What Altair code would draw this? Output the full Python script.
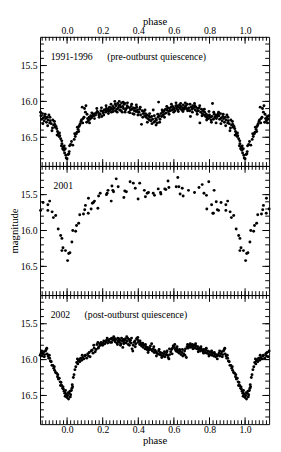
import altair as alt
import pandas as pd

# ---------------- data (phase in [0,1), magnitude) ----------------
top_pts = [
(0.000,16.80),(0.006,16.74),(0.010,16.73),(0.014,16.62),(0.020,16.60),(0.032,16.61),(0.040,16.53),
(0.046,16.49),(0.052,16.45),(0.056,16.43),(0.062,16.39),(0.067,16.35),(0.071,16.33),(0.074,16.31),
(0.078,16.28),(0.081,16.26),(0.085,16.08),(0.090,16.24),(0.095,16.22),(0.103,16.15),(0.106,16.06),
(0.110,16.29),(0.115,16.24),(0.120,16.27),(0.124,16.22),(0.128,16.25),(0.133,16.20),(0.137,16.23),
(0.142,16.21),(0.147,16.18),(0.151,16.20),(0.156,16.17),(0.160,16.19),(0.165,16.16),(0.169,16.14),
(0.173,16.15),(0.178,16.19),(0.182,16.17),(0.186,16.18),(0.190,16.13),(0.195,16.21),(0.199,16.14),
(0.203,16.16),(0.208,16.12),(0.213,16.12),(0.217,16.15),(0.221,16.10),(0.226,16.13),(0.230,16.11),
(0.234,16.14),(0.238,16.08),(0.242,16.12),(0.245,16.09),(0.249,16.15),(0.253,16.11),(0.257,16.07),
(0.261,16.10),(0.266,16.09),(0.270,16.04),(0.272,16.13),(0.275,16.06),(0.279,16.11),(0.284,16.03),
(0.287,16.09),(0.291,16.06),(0.295,16.12),(0.298,16.05),(0.302,16.08),(0.306,16.02),(0.310,16.15),
(0.313,16.07),(0.317,16.10),(0.320,16.04),(0.324,16.03),(0.328,16.12),(0.333,16.10),(0.337,16.06),
(0.342,16.08),(0.347,16.15),(0.351,16.09),(0.356,16.12),(0.360,16.07),(0.365,16.11),(0.369,16.17),
(0.373,16.09),(0.378,16.13),(0.382,16.10),(0.387,16.14),(0.391,16.08),(0.395,16.12),(0.400,16.15),
(0.404,16.15),(0.408,16.11),(0.413,16.19),(0.418,16.32),(0.422,16.13),(0.427,16.17),(0.431,16.14),
(0.436,16.20),(0.440,16.17),(0.444,16.22),(0.449,16.19),(0.453,16.24),(0.458,16.20),(0.462,16.26),
(0.466,16.22),(0.471,16.27),(0.475,16.21),(0.480,16.25),(0.484,16.12),(0.488,16.29),(0.493,16.28),
(0.497,16.24),(0.502,16.26),(0.507,16.30),(0.511,16.22),(0.514,16.01),(0.518,16.20),(0.522,16.25),
(0.527,16.17),(0.531,16.21),(0.536,16.15),(0.540,16.19),(0.545,16.13),(0.549,16.17),(0.553,16.11),
(0.558,16.16),(0.562,16.12),(0.566,16.09),(0.571,16.14),(0.575,16.10),(0.580,16.13),(0.584,16.08),
(0.589,16.12),(0.593,16.07),(0.597,16.11),(0.602,16.09),(0.606,16.13),(0.611,16.06),(0.615,16.10),
(0.617,16.06),(0.622,16.12),(0.626,16.08),(0.631,16.05),(0.635,16.10),(0.640,16.07),(0.644,16.12),
(0.649,16.09),(0.653,16.05),(0.658,16.11),(0.662,16.08),(0.667,16.06),(0.671,16.10),(0.675,16.04),
(0.680,16.12),(0.684,16.09),(0.689,16.13),(0.693,16.21),(0.697,16.08),(0.702,16.11),(0.706,16.06),
(0.711,16.09),(0.716,16.03),(0.720,16.12),(0.724,16.08),(0.729,16.14),(0.733,16.10),(0.738,16.13),
(0.742,16.09),(0.746,16.30),(0.751,16.15),(0.755,16.11),(0.760,16.17),(0.764,16.13),(0.769,16.19),
(0.773,16.15),(0.778,16.21),(0.782,16.18),(0.787,16.23),(0.791,16.20),(0.795,16.24),(0.800,16.19),
(0.804,16.22),(0.809,16.26),(0.813,16.21),(0.817,16.03),(0.822,16.25),(0.826,16.18),(0.830,16.22),
(0.835,16.19),(0.839,16.24),(0.844,16.21),(0.848,16.18),(0.853,16.20),(0.857,16.25),(0.862,16.17),
(0.866,16.23),(0.871,16.27),(0.875,16.21),(0.880,16.24),(0.884,16.29),(0.889,16.22),(0.893,16.26),
(0.898,16.19),(0.902,16.30),(0.906,16.27),(0.911,16.31),(0.915,16.41),(0.920,16.26),(0.924,16.33),
(0.929,16.28),(0.933,16.36),(0.938,16.35),(0.942,16.38),(0.946,16.42),(0.951,16.45),(0.955,16.49),
(0.959,16.48),(0.964,16.52),(0.968,16.62),(0.971,16.59),(0.975,16.66),(0.979,16.64),(0.982,16.68),
(0.986,16.72),(0.990,16.66),(0.995,16.79),
# additional scattered measurements
(0.012,16.70),(0.025,16.56),(0.043,16.45),(0.058,16.36),(0.065,16.42),(0.088,16.30),(0.098,16.10),
(0.112,16.18),(0.126,16.30),(0.139,16.16),(0.154,16.24),(0.167,16.10),(0.180,16.22),(0.193,16.09),
(0.206,16.19),(0.219,16.06),(0.232,16.17),(0.247,16.04),(0.259,16.14),(0.268,16.00),(0.281,16.15),
(0.293,16.00),(0.304,16.13),(0.315,16.01),(0.326,16.15),(0.339,16.02),(0.353,16.16),(0.363,16.04),
(0.376,16.18),(0.389,16.05),(0.398,16.19),(0.411,16.08),(0.425,16.22),(0.438,16.12),(0.451,16.29),
(0.464,16.17),(0.477,16.31),(0.490,16.20),(0.500,16.33),(0.509,16.18),(0.520,16.29),(0.534,16.12),
(0.547,16.22),(0.560,16.07),(0.573,16.18),(0.586,16.04),(0.599,16.15),(0.612,16.02),(0.625,16.14),
(0.638,16.03),(0.651,16.14),(0.664,16.02),(0.677,16.13),(0.691,16.04),(0.704,16.15),(0.718,16.06),
(0.731,16.18),(0.745,16.06),(0.758,16.20),(0.771,16.11),(0.784,16.26),(0.797,16.14),(0.811,16.29),
(0.824,16.15),(0.837,16.30),(0.851,16.15),(0.864,16.31),(0.877,16.18),(0.891,16.34),(0.904,16.22),
(0.918,16.37),(0.931,16.32),(0.944,16.47),(0.957,16.44),(0.970,16.55),(0.984,16.62),(0.993,16.75),
]

mid_pts = [
(0.003,16.42),(0.009,16.32),(0.016,16.31),(0.027,16.16),(0.032,16.00),(0.048,16.01),(0.053,15.93),
(0.065,15.90),(0.071,15.78),(0.092,15.77),(0.099,15.71),(0.103,15.65),(0.119,15.76),(0.120,15.55),
(0.135,15.70),(0.142,15.62),(0.148,15.61),(0.154,15.59),(0.173,15.69),(0.177,15.52),(0.186,15.48),
(0.221,15.50),(0.225,15.48),(0.230,15.44),(0.248,15.59),(0.252,15.38),(0.257,15.44),(0.261,15.46),
(0.276,15.28),(0.287,15.39),(0.319,15.54),(0.324,15.45),(0.333,15.46),(0.354,15.32),(0.372,15.34),
(0.383,15.41),(0.399,15.56),(0.408,15.34),(0.434,15.44),(0.440,15.53),(0.450,15.48),(0.457,15.47),
(0.484,15.48),(0.491,15.51),(0.512,15.42),(0.525,15.47),(0.527,15.49),(0.549,15.42),(0.555,15.43),
(0.567,15.31),(0.572,15.40),(0.613,15.39),(0.622,15.26),(0.628,15.39),(0.635,15.49),(0.647,15.41),
(0.652,15.52),(0.682,15.44),(0.716,15.47),(0.741,15.40),(0.759,15.36),(0.769,15.48),(0.783,15.51),
(0.796,15.32),(0.785,15.70),(0.812,15.64),(0.819,15.76),(0.822,15.76),(0.826,15.44),(0.838,15.60),
(0.844,15.71),(0.851,15.72),(0.865,15.61),(0.892,15.64),(0.902,15.59),(0.892,15.72),(0.916,15.74),
(0.923,15.82),(0.936,15.79),(0.950,15.98),(0.964,16.07),(0.971,16.11),(0.977,16.24),(0.971,16.28),
(0.991,16.28),
]

bot_pts = [
(0.000,16.53),(0.004,16.50),(0.008,16.55),(0.012,16.47),(0.016,16.44),(0.020,16.49),(0.024,16.43),
(0.027,16.40),(0.031,16.38),(0.035,16.25),(0.039,16.21),(0.044,16.14),(0.049,16.10),(0.054,16.04),
(0.058,15.99),(0.063,16.02),(0.068,16.00),(0.071,16.03),(0.076,15.98),(0.082,16.01),(0.088,15.97),
(0.094,15.99),(0.100,15.95),(0.103,15.94),(0.110,15.98),(0.116,15.92),(0.124,15.90),(0.129,15.96),
(0.135,15.88),(0.140,15.87),(0.146,15.91),(0.152,15.84),(0.158,15.89),(0.163,15.86),(0.168,15.79),
(0.173,15.76),(0.178,15.82),(0.183,15.78),(0.188,15.80),(0.191,15.76),(0.196,15.79),(0.201,15.77),
(0.206,15.74),(0.212,15.78),(0.217,15.75),(0.222,15.73),(0.228,15.77),(0.233,15.74),(0.238,15.72),
(0.243,15.76),(0.247,15.71),(0.252,15.70),(0.257,15.73),(0.262,15.68),(0.266,15.70),(0.270,15.75),
(0.274,15.72),(0.279,15.77),(0.283,15.79),(0.287,15.74),(0.290,15.71),(0.294,15.76),(0.298,15.73),
(0.302,15.78),(0.306,15.70),(0.310,15.74),(0.313,15.83),(0.316,15.72),(0.320,15.76),(0.324,15.73),
(0.328,15.71),(0.332,15.77),(0.336,15.74),(0.340,15.70),(0.344,15.79),(0.348,15.72),(0.352,15.75),
(0.356,15.73),(0.360,15.77),(0.365,15.85),(0.369,15.88),(0.372,15.80),(0.376,15.76),(0.381,15.74),
(0.386,15.78),(0.390,15.71),(0.395,15.72),(0.399,15.76),(0.404,15.74),(0.408,15.79),(0.413,15.77),
(0.418,15.81),(0.423,15.79),(0.428,15.83),(0.433,15.80),(0.438,15.85),(0.443,15.82),(0.448,15.86),
(0.453,15.83),(0.458,15.87),(0.463,15.84),(0.468,15.81),(0.475,15.78),(0.479,15.88),(0.484,15.85),
(0.489,15.90),(0.494,15.87),(0.499,15.89),(0.504,15.91),(0.510,15.92),(0.514,15.88),(0.519,15.93),
(0.524,15.90),(0.529,15.94),(0.534,15.91),(0.539,15.95),(0.544,15.92),(0.549,15.96),(0.554,15.93),
(0.559,15.90),(0.564,15.94),(0.568,15.97),(0.572,15.99),(0.577,15.93),(0.582,15.89),(0.587,15.86),
(0.592,15.84),(0.596,15.81),(0.599,15.81),(0.603,15.83),(0.608,15.86),(0.612,15.88),(0.616,15.85),
(0.620,15.89),(0.625,15.87),(0.630,15.91),(0.635,15.88),(0.640,15.93),(0.645,15.90),(0.650,15.95),
(0.655,15.92),(0.660,15.88),(0.665,15.85),(0.670,15.97),(0.674,15.82),(0.679,15.84),(0.684,15.82),
(0.689,15.80),(0.694,15.83),(0.699,15.81),(0.704,15.79),(0.709,15.82),(0.714,15.80),(0.719,15.84),
(0.724,15.81),(0.729,15.85),(0.734,15.82),(0.739,15.86),(0.744,15.84),(0.749,15.88),(0.754,15.85),
(0.759,15.87),(0.764,15.89),(0.769,15.86),(0.774,15.90),(0.779,15.87),(0.784,15.91),(0.789,15.88),
(0.794,15.92),(0.799,15.89),(0.804,15.93),(0.809,15.90),(0.814,15.94),(0.819,15.91),(0.824,15.95),
(0.829,15.92),(0.834,15.96),(0.839,15.93),(0.844,15.99),(0.849,15.94),(0.854,15.91),(0.859,15.95),
(0.864,15.92),(0.869,15.89),(0.874,15.93),(0.879,15.88),(0.883,15.86),(0.888,15.92),(0.893,15.95),
(0.897,15.98),(0.902,15.98),(0.906,16.02),(0.911,16.03),(0.915,16.08),(0.920,16.08),(0.925,16.12),
(0.930,16.15),(0.935,16.18),(0.941,16.19),(0.946,16.24),(0.951,16.27),(0.956,16.26),(0.961,16.31),
(0.966,16.32),(0.970,16.36),(0.975,16.40),(0.979,16.41),(0.983,16.44),(0.987,16.47),(0.991,16.43),
(0.995,16.48),(0.998,16.52),
# additional scattered measurements
(0.006,16.46),(0.018,16.52),(0.029,16.35),(0.060,16.06),(0.085,15.94),(0.120,15.95),(0.150,15.80),
(0.175,15.84),(0.200,15.80),(0.225,15.70),(0.250,15.76),(0.268,15.72),(0.285,15.70),(0.300,15.80),
(0.318,15.78),(0.335,15.68),(0.350,15.80),(0.362,15.70),(0.383,15.82),(0.397,15.69),(0.410,15.74),
(0.425,15.77),(0.440,15.79),(0.455,15.90),(0.470,15.86),(0.487,15.82),(0.502,15.95),(0.517,15.86),
(0.532,15.97),(0.547,15.89),(0.562,15.88),(0.575,15.85),(0.590,15.92),(0.605,15.79),(0.618,15.82),
(0.632,15.86),(0.648,15.86),(0.662,15.94),(0.677,15.79),(0.692,15.78),(0.707,15.85),(0.722,15.78),
(0.737,15.89),(0.752,15.82),(0.767,15.91),(0.782,15.84),(0.797,15.95),(0.812,15.88),(0.827,15.90),
(0.842,15.95),(0.857,15.88),(0.872,15.96),(0.886,15.84),(0.900,15.94),(0.928,16.10),(0.948,16.21),
(0.963,16.36),(0.977,16.38),(0.989,16.51),
]

panel_labels = [
    "1991-1996\u00a0\u00a0\u00a0\u00a0\u00a0\u00a0(pre-outburst quiescence)",
    "2001",
    "2002\u00a0\u00a0\u00a0\u00a0\u00a0\u00a0(post-outburst quiescence)",
]

x_major = [0.0, 0.2, 0.4, 0.6, 0.8, 1.0]
x_minor = [round(-0.14 + 0.02 * i, 2) for i in range(64)]
y_major = [15.5, 16.0, 16.5]
y_minor = [round(15.2 + 0.1 * i, 1) for i in range(17)]

PH_MIN, PH_MAX = -0.152, 1.135
MAG_MIN, MAG_MAX = 15.1, 16.9
W, H = 236, 133
FONT = "Liberation Serif"
MINOR_LEN, MAJOR_LEN = 4, 7


def wrap(pts):
    rows = []
    for p, m in pts:
        for s in (-1, 0, 1):
            q = p + s
            if PH_MIN <= q <= PH_MAX:
                rows.append({"x": q, "y": m, "kind": "pt"})
    return rows


def tick_rows():
    rows = []
    for t in x_minor:
        rows.append({"x": t, "y": MAG_MIN, "kind": "xminor"})
    for t in x_major:
        rows.append({"x": t, "y": MAG_MIN, "kind": "xmajor"})
    for v in y_minor:
        rows.append({"x": 0.5, "y": v, "kind": "yminor"})
    for v in y_major:
        rows.append({"x": 0.5, "y": v, "kind": "ymajor"})
    return rows


xs = alt.Scale(domain=[PH_MIN, PH_MAX], nice=False, zero=False)
ys = alt.Scale(domain=[MAG_MIN, MAG_MAX], reverse=True, nice=False, zero=False)


def panel(pts, label, label_x, x_orient, ytitle):
    df = pd.DataFrame(wrap(pts) + tick_rows())
    if x_orient:
        xaxis = alt.Axis(orient=x_orient, values=x_major, format=".1f", ticks=False, tickSize=0,
                         domain=False, grid=False, title="phase", labelPadding=1, titlePadding=0)
    else:
        xaxis = None
    if ytitle:
        yaxis = alt.Axis(values=y_major, format=".1f", ticks=False, tickSize=0, domain=False,
                         grid=False, title=ytitle, labelPadding=3, titlePadding=1)
    else:
        yaxis = alt.Axis(values=y_major, format=".1f", ticks=False, tickSize=0, domain=False,
                         grid=False, title=None, labelPadding=3)
    X = alt.X("x:Q", scale=xs, axis=xaxis)
    Y = alt.Y("y:Q", scale=ys, axis=yaxis)
    base = alt.Chart(df)
    layers = [
        base.transform_filter("datum.kind == 'pt'").mark_circle(
            size=9, color="black", opacity=1).encode(x=X, y=Y)
    ]
    for kind, L in (("minor", MINOR_LEN), ("major", MAJOR_LEN)):
        xt = base.transform_filter(f"datum.kind == 'x{kind}'").mark_rule(color="black", strokeWidth=1)
        yt = base.transform_filter(f"datum.kind == 'y{kind}'").mark_rule(color="black", strokeWidth=1)
        layers += [
            xt.encode(x=X, y=alt.value(0), y2=alt.value(L)),
            xt.encode(x=X, y=alt.value(H), y2=alt.value(H - L)),
            yt.encode(y=Y, x=alt.value(0), x2=alt.value(L)),
            yt.encode(y=Y, x=alt.value(W), x2=alt.value(W - L)),
        ]
    txt = alt.Chart(pd.DataFrame({"t": [label]})).mark_text(
        align="left", baseline="middle", font=FONT, fontSize=10, color="black"
    ).encode(x=alt.value(label_x), y=alt.value(21), text="t:N")
    return alt.layer(*layers, txt).properties(width=W, height=H)


p1 = panel(top_pts, panel_labels[0], 11, "top", None)
p2 = panel(mid_pts, panel_labels[1], 14, None, "magnitude")
p3 = panel(bot_pts, panel_labels[2], 11, "bottom", None)

chart = alt.vconcat(p1, p2, p3, spacing=0, bounds="flush").properties(
    padding={"left": 0, "top": 0, "right": 2, "bottom": 0}
).configure_view(stroke="black", strokeWidth=1).configure_axis(
    labelFont=FONT, titleFont=FONT, labelFontSize=10, titleFontSize=11,
    labelColor="black", titleColor="black", titleFontWeight="normal",
)

chart.save("out.html", embed_options={"renderer": "svg", "actions": False})
